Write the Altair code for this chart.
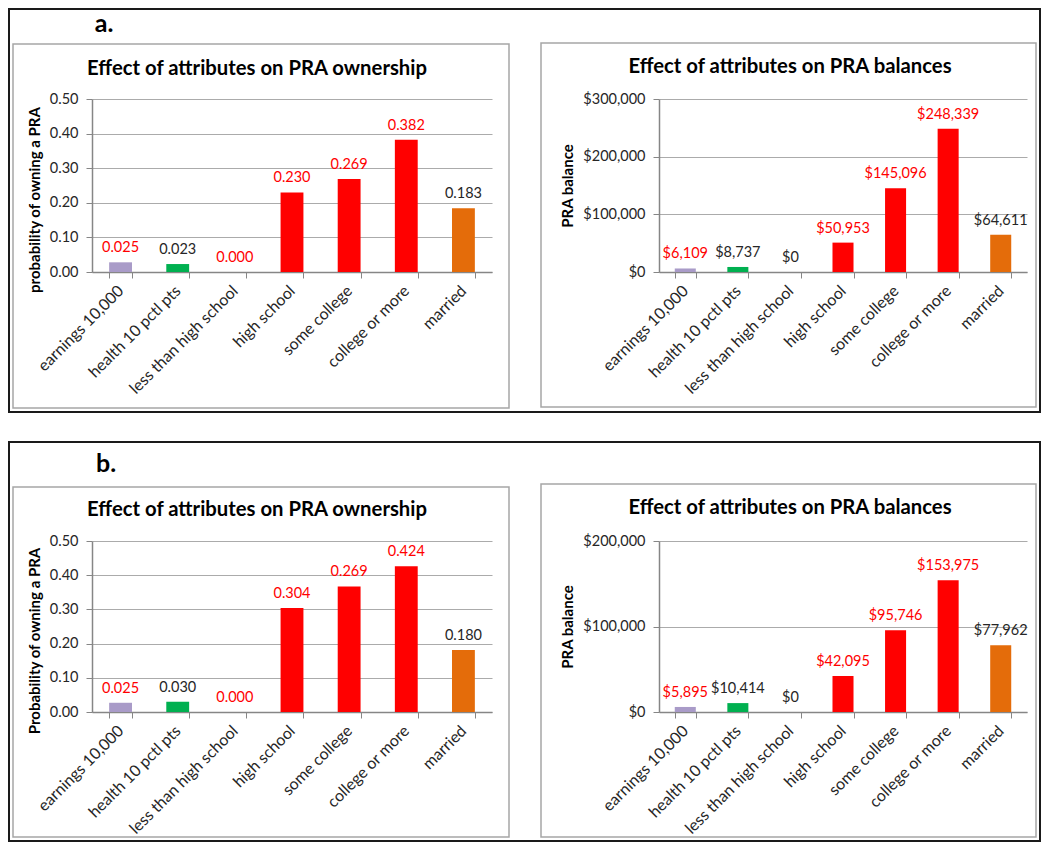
import altair as alt
import pandas as pd

categories = ["earnings 10,000", "health 10 pctl pts", "less than high school",
              "high school", "some college", "college or more", "married"]
groups = ["earnings", "health", "education", "education", "education", "education", "married"]
group_domain = ["earnings", "health", "education", "married"]
group_colors = ["#A99BC8", "#00B050", "#FF0000", "#E46C0A"]

# panel a, ownership
a_own_values = [0.028, 0.023, 0.000, 0.230, 0.269, 0.382, 0.184]
a_own_labels = ["0.025", "0.023", "0.000", "0.230", "0.269", "0.382", "0.183"]
a_own_lcol = ["red", "dark", "red", "red", "red", "red", "dark"]
# panel a, balances
a_bal_values = [6109, 8737, 0, 50953, 145096, 248339, 64611]
a_bal_labels = ["$6,109", "$8,737", "$0", "$50,953", "$145,096", "$248,339", "$64,611"]
a_bal_lcol = ["red", "dark", "dark", "red", "red", "red", "dark"]
# panel b, ownership
b_own_values = [0.027, 0.030, 0.000, 0.304, 0.367, 0.426, 0.181]
b_own_labels = ["0.025", "0.030", "0.000", "0.304", "0.269", "0.424", "0.180"]
b_own_lcol = ["red", "dark", "red", "red", "red", "red", "dark"]
# panel b, balances
b_bal_values = [5895, 10414, 0, 42095, 95746, 153975, 77962]
b_bal_labels = ["$5,895", "$10,414", "$0", "$42,095", "$95,746", "$153,975", "$77,962"]
b_bal_lcol = ["red", "dark", "dark", "red", "red", "red", "dark"]

own_ticks = [0.0, 0.1, 0.2, 0.3, 0.4, 0.5]
bal_ticks_a = [0, 100000, 200000, 300000]
bal_ticks_b = [0, 100000, 200000]

FONT = "Lato"
GRID = "#ABABAB"
AXIS = "#868686"
BOX = "#A6A6A6"
TXT = "#262626"


def one():
    return alt.Chart(pd.DataFrame({"k": [0]}))


def rect(x, x2, y, y2, color, sw):
    return one().mark_rect(fillOpacity=0, stroke=color, strokeWidth=sw).encode(
        x=alt.value(x), x2=alt.value(x2), y=alt.value(y), y2=alt.value(y2))


def label(text, x, y, size, angle=0, weight="bold"):
    return one().mark_text(text=text, font=FONT, fontSize=size, fontWeight=weight,
                           color="#000000", angle=angle, align="center",
                           baseline="middle").encode(x=alt.value(x), y=alt.value(y))


def panel(values, labels, lcol, ticks, fmt, ytitle, title, w, h, box, tpos, ypos, extra):
    df = pd.DataFrame({"cat": categories, "grp": groups, "val": values,
                       "lab": labels, "lc": lcol})
    base = alt.Chart(df)
    xenc = alt.X("cat:N", sort=categories,
                 scale=alt.Scale(paddingInner=0.6, paddingOuter=0.3),
                 axis=alt.Axis(title=None, labelAngle=-45, labelAlign="right",
                               labelBaseline="middle", labelPadding=10,
                               tickBand="extent", tickSize=6, tickColor=AXIS,
                               domainColor=AXIS, domainWidth=1.5, grid=False,
                               labelOverlap=False,
                               labelFont=FONT, labelFontSize=16, labelColor=TXT))
    yenc = alt.Y("val:Q", scale=alt.Scale(domain=[ticks[0], ticks[-1]], nice=False),
                 axis=alt.Axis(title=None, values=ticks, format=fmt, grid=True,
                               gridColor=GRID, gridWidth=1, domainColor=AXIS,
                               domainWidth=1.5, tickColor=AXIS, tickSize=6,
                               labelOverlap=False, tickCount=len(ticks),
                               labelPadding=8, labelFont=FONT, labelFontSize=14.5,
                               labelColor=TXT))
    bars = base.mark_bar().encode(
        x=xenc, y=yenc,
        color=alt.Color("grp:N", scale=alt.Scale(domain=group_domain, range=group_colors),
                        legend=None))
    texts = base.mark_text(dy=-10, baseline="alphabetic", font=FONT, fontSize=14.5).encode(
        x=xenc, y=yenc,
        text="lab:N",
        color=alt.Color("lc:N", scale=alt.Scale(domain=["red", "dark"],
                                                range=["#FF0000", TXT]), legend=None))
    layers = extra + [rect(box[0], box[1], box[2], box[3], BOX, 1.5),
                      label(title, tpos[0], tpos[1], 20.3),
                      label(ytitle, ypos[0], ypos[1], 15, angle=270),
                      bars, texts]
    return alt.layer(*layers).resolve_scale(color="independent").properties(width=w, height=h)


p1 = panel(a_own_values, a_own_labels, a_own_lcol, own_ticks, ".2f",
           "probability of owning a PRA", "Effect of attributes on PRA ownership",
           400, 173, (-79, 417, -55, 309), (165, -30), (-57, 101),
           [rect(-83, 948, -90, 313, "#1A1A1A", 2), label("a.", 12, -75, 25)])
p2 = panel(a_bal_values, a_bal_labels, a_bal_lcol, bal_ticks_a, "$,.0f",
           "PRA balance", "Effect of attributes on PRA balances",
           368, 173, (-118, 377, -56, 308), (131, -32), (-91, 87), [])
p3 = panel(b_own_values, b_own_labels, b_own_lcol, own_ticks, ".2f",
           "Probability of owning a PRA", "Effect of attributes on PRA ownership",
           400, 171, (-79, 417, -54, 296), (165, -31), (-57, 100),
           [rect(-83, 948, -99, 300, "#1A1A1A", 2), label("b.", 14, -77, 25)])
p4 = panel(b_bal_values, b_bal_labels, b_bal_lcol, bal_ticks_b, "$,.0f",
           "PRA balance", "Effect of attributes on PRA balances",
           368, 171, (-118, 377, -57, 296), (131, -33), (-91, 86), [])

chart = alt.concat(p1, p2, p3, p4, columns=2, spacing={"row": 269, "column": 167},
                   bounds="flush").properties(padding=0).configure_view(stroke=None)

chart.save("out.html", embed_options={"renderer": "svg", "actions": False})
